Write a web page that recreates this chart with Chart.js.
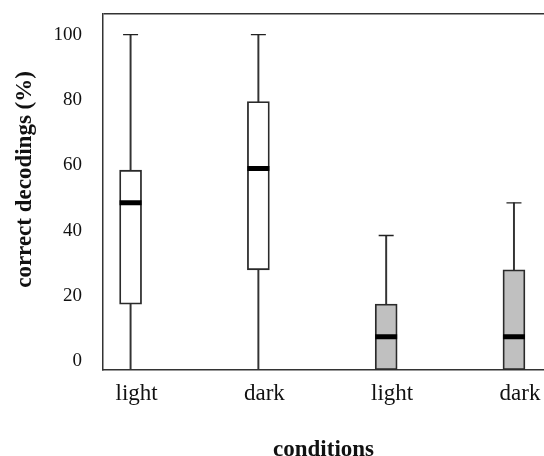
<!DOCTYPE html>
<html>
<head>
<meta charset="utf-8">
<script src="https://cdn.jsdelivr.net/npm/chart.js@4.4.0/dist/chart.umd.min.js"></script>
<style>
  html, body { margin: 0; padding: 0; background: #fff; }
  #wrap { width: 544px; height: 456px; }
</style>
</head>
<body>
<div id="wrap"><canvas id="decodingsBox"></canvas></div>
<script>
// box plot values (lowest values sit on the axis line)
const conditions = ['light', 'dark', 'light', 'dark'];
const positions = [1, 2, 3, 4];
const whiskerLow = [-2.6, -2.6, -2.6, -2.6];
const quartile1 = [17.5, 28, -2.6, -2.6];
const medians = [48.5, 59, 7.5, 7.5];
const quartile3 = [58.5, 79.5, 17.5, 28];
const whiskerHigh = [100, 100, 38.5, 48.5];
const boxColors = ['#ffffff', '#ffffff', '#c0c0c0', '#c0c0c0'];
const yTicks = [0, 20, 40, 60, 80, 100];
const yTitle = 'correct decodings (%)';

const yMin = -2.6;
const yMax = 106.3;
const serif = "'Liberation Serif', 'Times New Roman', serif";
const axisColor = '#333';
const clear = 'rgba(0,0,0,0)';

// y title sits a little above the middle of the axis, so draw it by hand
const yTitlePlugin = {
    id: 'yTitle',
    afterDraw(chart) {
        const { ctx, chartArea } = chart;
        const cy = chartArea.top + (chartArea.bottom - chartArea.top) * 0.465;
        ctx.save();
        ctx.translate(25, cy);
        ctx.rotate(-Math.PI / 2);
        ctx.font = 'bold 23px ' + serif;
        ctx.fillStyle = '#111';
        ctx.textAlign = 'center';
        ctx.textBaseline = 'middle';
        ctx.fillText(yTitle, 0, 0);
        ctx.restore();
    }
};

const ctx = document.getElementById('decodingsBox');

new Chart(ctx, {
    type: 'bar',
    data: {
        datasets: [{
            type: 'line',
            label: 'median',
            data: positions.map((x, i) => ({ x: x, y: medians[i] })),
            showLine: false,
            pointStyle: 'line',
            pointRadius: 11,
            pointBorderWidth: 5,
            pointBorderColor: '#000',
            pointHoverRadius: 11
        }, {
            type: 'line',
            label: 'cap',
            data: positions.map((x, i) => ({ x: x, y: whiskerHigh[i] })),
            showLine: false,
            pointStyle: 'line',
            pointRadius: 7.5,
            pointBorderWidth: 1.3,
            pointBorderColor: '#222'
        }, {
            label: 'box',
            data: positions.map((x, i) => ({ x: x, y: [quartile1[i], quartile3[i]] })),
            backgroundColor: boxColors,
            borderColor: '#2a2a2a',
            borderWidth: 1.8,
            borderSkipped: false,
            barThickness: 22,
            grouped: false
        }, {
            label: 'whisker',
            data: positions.map((x, i) => ({ x: x, y: [whiskerLow[i], whiskerHigh[i]] })),
            backgroundColor: '#333',
            borderWidth: 0,
            barThickness: 1.3,
            grouped: false
        }]
    },
    plugins: [yTitlePlugin],
    options: {
        responsive: true,
        maintainAspectRatio: false,
        animation: false,
        layout: {
            autoPadding: false,
            padding: { top: 14, right: 0, left: 53.6, bottom: 0 }
        },
        plugins: {
            legend: { display: false },
            tooltip: { enabled: false }
        },
        scales: {
            x: {
                type: 'linear',
                offset: false,
                min: 0.785,
                max: 4.235,
                afterBuildTicks: (axis) => {
                    axis.ticks = positions.map(v => ({ value: v }));
                },
                ticks: {
                    callback: (v) => conditions[positions.indexOf(v)],
                    font: { family: serif, size: 23 },
                    color: '#111',
                    padding: 0,
                    labelOffset: 6,
                    maxRotation: 0
                },
                // gap under the axis comes from invisible tick marks
                grid: { display: false, drawTicks: true, tickLength: 10 },
                border: { color: axisColor, width: 1.5 },
                title: {
                    display: true,
                    text: 'conditions',
                    font: { family: serif, size: 23, weight: 'bold' },
                    color: '#111',
                    padding: { top: 28.5, bottom: -7.5 }
                }
            },
            y: {
                min: yMin,
                max: yMax,
                afterBuildTicks: (axis) => {
                    axis.ticks = yTicks.concat([yMax]).map(v => ({ value: v }));
                },
                ticks: {
                    callback: (v) => (v === yMax ? '' : v),
                    font: { family: serif, size: 19 },
                    color: '#111',
                    padding: 0
                },
                // only the frame line along the top of the plot
                grid: {
                    drawTicks: true,
                    tickLength: 21,
                    tickColor: clear,
                    lineWidth: 1.5,
                    color: (c) => (c.tick && c.tick.value === yMax ? axisColor : clear)
                },
                border: { color: axisColor, width: 1.5 }
            }
        }
    }
});
</script>
</body>
</html>
